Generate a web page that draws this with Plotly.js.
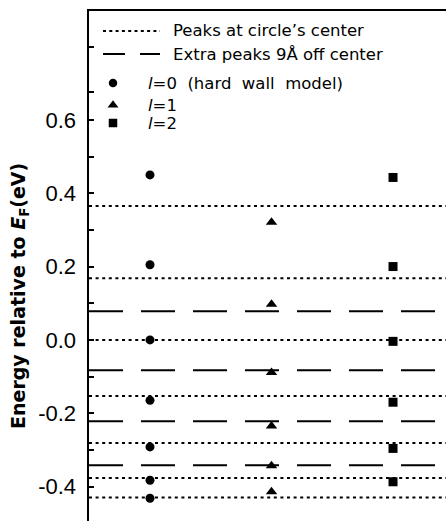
<!DOCTYPE html>
<html>
<head>
<meta charset="utf-8">
<script src="https://cdn.plot.ly/plotly-3.0.1.min.js"></script>
<style>html,body{margin:0;padding:0;background:#fff;}#chart{width:446px;height:521px;}</style>
</head>
<body>
<div id="chart"></div>
<script>
// ---- data ----
const lValues = [0, 1, 2];                       // angular momentum l (columns)
const l0Energies = [0.450, 0.205, 0.000, -0.165, -0.292, -0.383, -0.432];
const l1Energies = [0.321, 0.097, -0.089, -0.235, -0.343, -0.414];
const l2Energies = [0.443, 0.200, -0.004, -0.170, -0.296, -0.387];
const centerPeaks = [0.365, 0.168, 0.000, -0.153, -0.281, -0.377, -0.430];   // dotted
const offCenterPeaks = [0.078, -0.083, -0.222, -0.342];                      // dashed
const tickVals = [-0.4, -0.2, 0, 0.2, 0.4, 0.6];
const tickLabels = ['-0.4', '-0.2', '0.0', '0.2', '0.4', '0.6'];
const minorTickVals = [-0.3, -0.1, 0.1, 0.3, 0.5, 0.675, 0.8];
const legendNames = ['Peaks at circle\u2019s center', 'Extra peaks 9\u00c5 off center',
  '<i>l</i>=0\u00a0\u00a0(hard\u00a0\u00a0wall\u00a0\u00a0model)', '<i>l</i>=1', '<i>l</i>=2'];
const symbols = ['circle', 'triangle-up', 'square'];
const symbolSizes = [9, 10, 9];

// ---- layout geometry ----
const W = 446, H = 521, ML = 89, MT = 11;
const px = x => (x - ML) / (W - ML);
const py = y => (H - y) / (H - MT);

const series = [l0Energies, l1Energies, l2Energies];
const traces = series.map((ys, i) => ({
  type: 'scatter', mode: 'markers',
  x: ys.map(() => lValues[i]), y: ys,
  marker: {symbol: symbols[i], size: symbolSizes[i], color: '#000'},
  cliponaxis: false, showlegend: false, hoverinfo: 'skip'
}));

// legend keys for the markers (on a hidden overlay axis that maps to the paper)
const keyY = [py(83), py(105), py(123)];
symbols.forEach((s, i) => traces.push({
  type: 'scatter', mode: 'markers', xaxis: 'x2', yaxis: 'y2',
  x: [px(113)], y: [keyY[i]],
  marker: {symbol: s, size: symbolSizes[i] - 0.5, color: '#000'},
  cliponaxis: false, showlegend: false, hoverinfo: 'skip'
}));

const dotStyle = {color: '#000', width: 2, dash: '3px,3.6px'};
const dashStyle = {color: '#000', width: 2, dash: '34px,18px'};
const shapes = [];
centerPeaks.forEach(v => shapes.push({type: 'line', xref: 'paper', yref: 'y', x0: 0, x1: 1, y0: v, y1: v, line: dotStyle, layer: 'below'}));
offCenterPeaks.forEach(v => shapes.push({type: 'line', xref: 'paper', yref: 'y', x0: 0, x1: 1, y0: v, y1: v, line: dashStyle, layer: 'below'}));
// legend line samples
shapes.push({type: 'line', xref: 'paper', yref: 'paper', x0: px(103), x1: px(160), y0: py(31), y1: py(31), line: {color: '#000', width: 2, dash: '3px,3.3px'}});
shapes.push({type: 'line', xref: 'paper', yref: 'paper', x0: px(103), x1: px(160), y0: py(54), y1: py(54), line: {color: '#000', width: 2, dash: '22px,15px'}});

const legFont = {family: 'DejaVu Sans', size: 16.5, color: '#000'};
const annotations = [
  {text: legendNames[0], x: px(172), y: py(31)},
  {text: legendNames[1], x: px(172), y: py(54)},
  {text: legendNames[2], x: px(147), y: keyY[0]},
  {text: legendNames[3], x: px(147), y: keyY[1]},
  {text: legendNames[4], x: px(147), y: keyY[2]}
].map(a => Object.assign({xref: 'paper', yref: 'paper', xanchor: 'left', yanchor: 'middle', showarrow: false, font: legFont, borderpad: 0}, a));
annotations.push({
  text: '<b>Energy relative to <i>E</i><sub>F</sub>(eV)</b>',
  xref: 'paper', yref: 'paper', x: px(19), y: py(296), textangle: -90,
  xanchor: 'center', yanchor: 'middle', showarrow: false, borderpad: 0,
  font: {family: 'DejaVu Sans', size: 19, color: '#000'}
});

const layout = {
  width: W, height: H,
  margin: {l: ML, r: 0, t: MT, b: 0, pad: 0},
  paper_bgcolor: '#fff', plot_bgcolor: '#fff',
  showlegend: false,
  xaxis: {range: [-0.502, 2.436], side: 'top', showline: true, linecolor: '#000', linewidth: 2,
          showticklabels: false, ticks: '', showgrid: false, zeroline: false, fixedrange: true},
  yaxis: {range: [-0.494, 0.897], showline: true, linecolor: '#000', linewidth: 2.5,
          tickmode: 'array', tickvals: tickVals, ticktext: tickLabels,
          ticks: 'inside', ticklen: 5, tickwidth: 2, tickcolor: '#000',
          minor: {tickmode: 'array', tickvals: minorTickVals, ticks: 'inside', ticklen: 5, tickwidth: 2, tickcolor: '#000', showgrid: false},
          ticklabelstandoff: 6,
          tickfont: {family: 'Liberation Sans, Arial', size: 22, color: '#000'},
          showgrid: false, zeroline: false, fixedrange: true},
  xaxis2: {overlaying: 'x', range: [0, 1], visible: false, fixedrange: true},
  yaxis2: {overlaying: 'y', range: [0, 1], visible: false, fixedrange: true},
  shapes: shapes,
  annotations: annotations
};

Plotly.newPlot('chart', traces, layout, {displayModeBar: false, staticPlot: true});
</script>
</body>
</html>
